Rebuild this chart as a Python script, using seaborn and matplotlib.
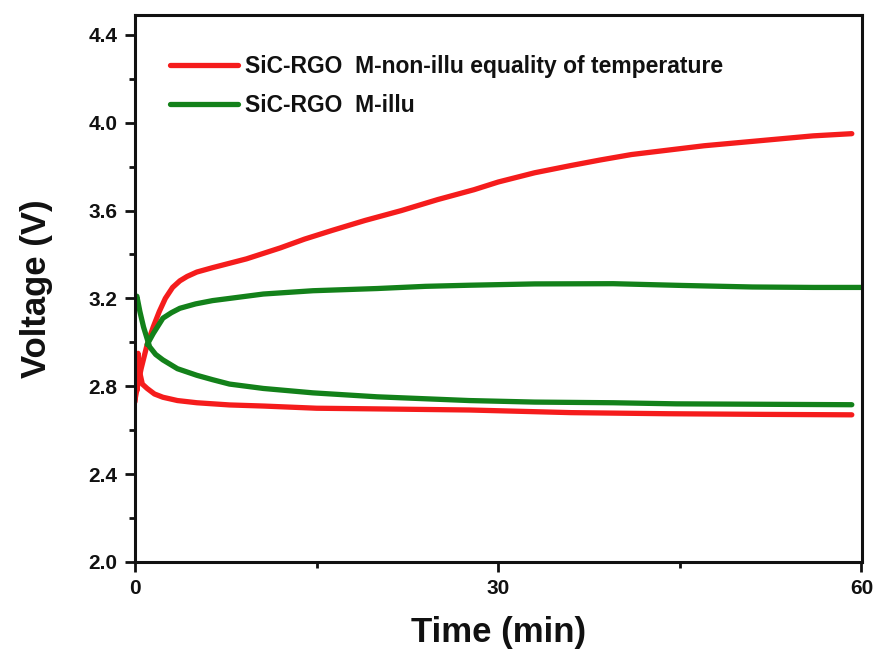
import matplotlib
matplotlib.use("Agg")
import matplotlib.pyplot as plt
import seaborn as sns
import pandas as pd
from matplotlib.ticker import MultipleLocator

# ---- data ----
red_up_t = [0, 0.2, 0.5, 1.0, 1.5, 2.0, 2.5, 3.1, 3.7, 4.3, 5.1, 6.4, 7.8, 9.2, 10.6, 12, 14, 16.3,
            19, 22, 25, 28, 30, 33, 36, 38.4, 41, 44, 47, 50, 53, 56, 59.2]
red_up_v = [2.74, 2.80, 2.88, 2.99, 3.07, 3.14, 3.20, 3.25, 3.28, 3.30, 3.32, 3.34, 3.36, 3.38, 3.405,
            3.43, 3.47, 3.51, 3.555, 3.60, 3.65, 3.695, 3.73, 3.772, 3.805, 3.83, 3.855, 3.875, 3.895,
            3.91, 3.925, 3.94, 3.95]

red_lo_t = [0, 0.08, 0.15, 0.25, 0.4, 0.6, 1.0, 1.6, 2.3, 3.5, 5.1, 7.8, 10.6, 15, 20, 27.6, 36, 44,
            52, 59.2]
red_lo_v = [2.73, 2.90, 2.78, 2.95, 2.86, 2.81, 2.79, 2.765, 2.75, 2.735, 2.725, 2.715, 2.71, 2.70,
            2.697, 2.692, 2.68, 2.675, 2.672, 2.67]

green_up_t = [1.0, 1.5, 2.3, 3.0, 3.7, 5.0, 6.4, 8.5, 10.6, 14.7, 20, 24, 27.6, 33, 39.5, 45.2, 51,
              56, 60]
green_up_v = [2.99, 3.04, 3.11, 3.135, 3.155, 3.175, 3.19, 3.205, 3.22, 3.235, 3.245, 3.255, 3.26,
              3.266, 3.267, 3.259, 3.252, 3.25, 3.25]

green_lo_t = [0, 0.15, 0.4, 0.7, 1.2, 1.7, 2.3, 3.5, 5.1, 6.4, 7.8, 10.6, 14.7, 20, 27.6, 33, 39.5,
              44.7, 52, 59.2]
green_lo_v = [3.19, 3.21, 3.14, 3.07, 2.98, 2.945, 2.92, 2.88, 2.85, 2.83, 2.81, 2.79, 2.77, 2.752,
              2.735, 2.728, 2.725, 2.72, 2.718, 2.716]

labels = ["SiC-RGO  M-non-illu equality of temperature", "SiC-RGO  M-illu"]
x_ticks = [0, 30, 60]
y_ticks = [2.0, 2.4, 2.8, 3.2, 3.6, 4.0, 4.4]

RED = "#f51c1c"
GREEN = "#13811a"

sns.set_style("ticks")
plt.rcParams["font.family"] = ["Liberation Sans", "DejaVu Sans"]
plt.rcParams["font.weight"] = "bold"
plt.rcParams["text.color"] = "#111111"
plt.rcParams["axes.labelcolor"] = "#111111"
plt.rcParams["xtick.color"] = "#111111"
plt.rcParams["ytick.color"] = "#111111"

fig = plt.figure(figsize=(8.77, 6.55), dpi=100)
ax = fig.add_axes([0.154, 0.142, 0.829, 0.835])

def seg(t, v, name):
    return pd.DataFrame({"Time": t, "Voltage": v, "series": name})

red1 = seg(red_up_t, red_up_v, labels[0])
red2 = seg(red_lo_t, red_lo_v, labels[0])
g1 = seg(green_up_t, green_up_v, labels[1])
g2 = seg(green_lo_t, green_lo_v, labels[1])

lw = 3.8
kw = dict(lw=lw, ax=ax, sort=False, solid_capstyle="round", solid_joinstyle="round")
sns.lineplot(data=red1, x="Time", y="Voltage", color=RED, label=labels[0], **kw)
sns.lineplot(data=g1, x="Time", y="Voltage", color=GREEN, label=labels[1], **kw)
sns.lineplot(data=g2, x="Time", y="Voltage", color=GREEN, **kw)
sns.lineplot(data=red2, x="Time", y="Voltage", color=RED, **kw)

ax.set_xlim(0, 60.05)
ax.set_ylim(2.0, 4.49)
ax.set_xticks(x_ticks)
ax.set_yticks(y_ticks)
ax.set_yticklabels([f"{v:.1f}" for v in y_ticks])
ax.xaxis.set_minor_locator(MultipleLocator(15))
ax.yaxis.set_minor_locator(MultipleLocator(0.2))
ax.tick_params(axis="both", which="major", direction="out", length=7.5, width=2,
               labelsize=15, pad=5, top=False, right=False)
ax.tick_params(axis="both", which="minor", direction="out", length=4, width=2,
               top=False, right=False)
for lab in ax.get_xticklabels() + ax.get_yticklabels():
    lab.set_fontweight("bold")
for sp in ax.spines.values():
    sp.set_linewidth(2.2)
    sp.set_color("#111111")
    sp.set_visible(True)

ax.set_xlabel("Time (min)", fontsize=25, fontweight="bold", labelpad=13)
ax.set_ylabel("Voltage (V)", fontsize=25, fontweight="bold", labelpad=26)

leg = ax.legend(loc="upper left", bbox_to_anchor=(0.035, 0.943), frameon=False,
                prop={"weight": "bold", "size": 16.5}, handlelength=3.0,
                labelspacing=0.7, handletextpad=0.3, borderaxespad=0)

fig.savefig("out.png", dpi=100)
